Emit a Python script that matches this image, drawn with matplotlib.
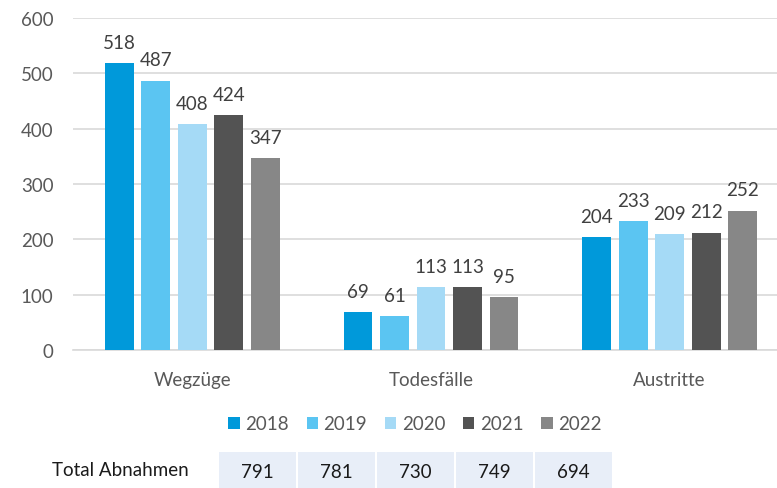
import matplotlib
matplotlib.use("Agg")
import matplotlib.pyplot as plt
import numpy as np

categories = ["Wegzüge", "Todesfälle", "Austritte"]
years = ["2018", "2019", "2020", "2021", "2022"]
values_2018 = [518, 69, 204]
values_2019 = [487, 61, 233]
values_2020 = [408, 113, 209]
values_2021 = [424, 113, 212]
values_2022 = [347, 95, 252]
series = [values_2018, values_2019, values_2020, values_2021, values_2022]
colors = ["#0099DA", "#5BC5F2", "#A5DAF6", "#535353", "#878787"]
yticks = [0, 100, 200, 300, 400, 500, 600]
table_label = "Total Abnahmen"
totals = [791, 781, 730, 749, 694]

plt.rcParams['font.family'] = ['Lato', 'DejaVu Sans']
FS = 13.5

W, H = 777, 489
fig = plt.figure(figsize=(W / 100, H / 100), dpi=100)
ax = fig.add_axes([73 / W, 1 - 351 / H, 704 / W, 332 / H])

x = np.arange(len(categories))
step = 0.153
bw = 0.121
for i, (vals, c, yr) in enumerate(zip(series, colors, years)):
    pos = x + (i - 2) * step
    ax.bar(pos, vals, width=bw, color=c, label=yr, zorder=3)
    for p, v in zip(pos, vals):
        ax.annotate(str(v), (p, v), xytext=(0, 11), textcoords="offset points",
                    ha="center", va="baseline", fontsize=FS, color="#404040")

ax.set_xlim(-0.5, 2.45)
ax.set_ylim(0, 600)
ax.set_yticks(yticks)
ax.set_yticklabels([str(t) for t in yticks], fontsize=FS, color="#595959")
ax.set_xticks(x)
ax.set_xticklabels(categories, fontsize=FS, color="#595959")
ax.tick_params(axis="both", length=0)
ax.tick_params(axis="y", pad=14)
ax.tick_params(axis="x", pad=15)
ax.grid(axis="y", color="#D9D9D9", linewidth=1.2, zorder=0)
for s in ["top", "right", "left"]:
    ax.spines[s].set_visible(False)
ax.spines["bottom"].set_color("#D9D9D9")
ax.spines["bottom"].set_linewidth(1.2)

handles, labels = ax.get_legend_handles_labels()
fig.legend(handles, labels, loc="center", bbox_to_anchor=(415 / W, 1 - 425 / H),
           ncol=5, frameon=False, fontsize=FS, handlelength=0.6, handleheight=0.6,
           handletextpad=0.3, columnspacing=0.95, labelcolor="#595959")

# table
tax = fig.add_axes([218 / W, 0, (613 - 218) / W, (489 - 453) / H])
tax.set_xlim(0, len(totals))
tax.set_ylim(0, 1)
tax.bar(np.arange(len(totals)) + 0.5, [1] * len(totals), width=0.975,
        color="#E8EEF8", bottom=0)
for i, t in enumerate(totals):
    tax.text(i + 0.5, 0.45, str(t), ha="center", va="center", fontsize=FS, color="#1a1a1a")
tax.axis("off")
fig.text(52 / W, 1 - 471 / H, table_label, ha="left", va="center", fontsize=FS, color="#1a1a1a")

fig.savefig("out.png", dpi=100)
